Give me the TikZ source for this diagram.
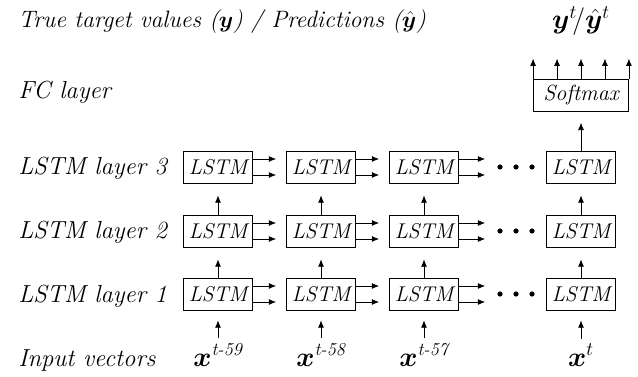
\documentclass[tikz,border=0pt]{standalone}
\usepackage{amsmath}
\usepackage{bm}
\usepackage{fontspec}
\usetikzlibrary{arrows.meta,calc}
\begin{document}
\begin{tikzpicture}[x=0.75pt,y=-0.75pt,
  lbl/.style={anchor=base west, inner sep=0pt, font=\fontsize{18.5}{22}\selectfont\itshape},
  cell/.style={draw, line width=0.6pt, inner sep=0pt, minimum width=51.75pt, minimum height=24pt, font=\fontsize{16}{20}\selectfont\itshape},
  arr/.style={-{Latex[length=5.5pt,width=4.5pt]}, line width=0.6pt},
  dotn/.style={circle, fill=black, inner sep=0pt, minimum size=3.9pt},
  inlbl/.style={anchor=base, inner sep=0pt, font=\fontsize{19.5}{22}\selectfont}
]
\useasboundingbox (0,0) rectangle (638,377);

% row labels
\node[lbl, font=\fontsize{17.8}{22}\selectfont\itshape] (ttitle) at (18,28) {True target values ($\bm{y}$) / Predictions ($\bm{\hat{y}}$)};
\node[lbl] (tfc) at (18,99) {FC layer};
\node[lbl] (tl3) at (18,175) {LSTM layer 3};
\node[lbl] (tl2) at (18,239) {LSTM layer 2};
\node[lbl] (tl1) at (18,302) {LSTM layer 1};
\node[lbl] (tin) at (18,366) {Input vectors};

% LSTM cells
\foreach \c/\x in {1/218,2/321,3/424,4/581}{
  \foreach \r/\y in {1/294,2/231,3/167}{
    \node[cell] (c\c r\r) at (\x,\y) {LSTM};
  }
}

% dots
\foreach \r/\y in {1/294,2/231,3/167}{
  \node[dotn] (da\r) at (500,\y) {};
  \node[dotn] (db\r) at (516,\y) {};
  \node[dotn] (dc\r) at (532,\y) {};
}

% horizontal arrows
\foreach \r in {1,2,3}{
  \foreach \c/\n in {1/2,2/3}{
    \draw[arr, shorten >=7.5pt] ([yshift=6pt]c\c r\r.east) -- ([yshift=6pt]c\n r\r.west);
    \draw[arr, shorten >=7.5pt] ([yshift=-6pt]c\c r\r.east) -- ([yshift=-6pt]c\n r\r.west);
  }
  \draw[arr, shorten >=9pt] ([yshift=6pt]c3r\r.east) -- ([yshift=6pt]da\r.west);
  \draw[arr, shorten >=9pt] ([yshift=-6pt]c3r\r.east) -- ([yshift=-6pt]da\r.west);
}

% vertical arrows between layers
\foreach \c in {1,2,3,4}{
  \draw[arr, shorten >=9pt] (c\c r1.north) -- (c\c r2.south);
  \draw[arr, shorten >=9pt] (c\c r2.north) -- (c\c r3.south);
}

% softmax
\node[cell, minimum width=71.25pt, font=\fontsize{16.5}{20}\selectfont\itshape] (soft) at (581,95) {Softmax};
\draw[arr, shorten >=8.5pt] (c4r3.north) -- (soft.south);
\foreach \i/\k in {1/0,2/0.25,3/0.5,4/0.75,5/1}{
  \coordinate (s\i) at ($(soft.north west)!\k!(soft.north east)$);
  \coordinate (o\i) at ($(s\i)+(0,-20)$);
  \draw[arr] (s\i) -- (o\i);
}
\node[inlbl] (yt) at (581,29) {$\bm{y}^{t}\!/\bm{\hat{y}}^{t}$};

% inputs
\node[inlbl] (x1) at (218,366) {$\bm{x}^{\textit{t-59}}$};
\node[inlbl] (x2) at (321,366) {$\bm{x}^{\textit{t-58}}$};
\node[inlbl] (x3) at (424,366) {$\bm{x}^{\textit{t-57}}$};
\node[inlbl] (x4) at (581,366) {$\bm{x}^{t}$};
\foreach \c in {1,2,3,4}{
  \draw[arr, shorten <=4pt, shorten >=7.5pt] (x\c.north) -- (c\c r1.south);
}
\end{tikzpicture}
\end{document}
